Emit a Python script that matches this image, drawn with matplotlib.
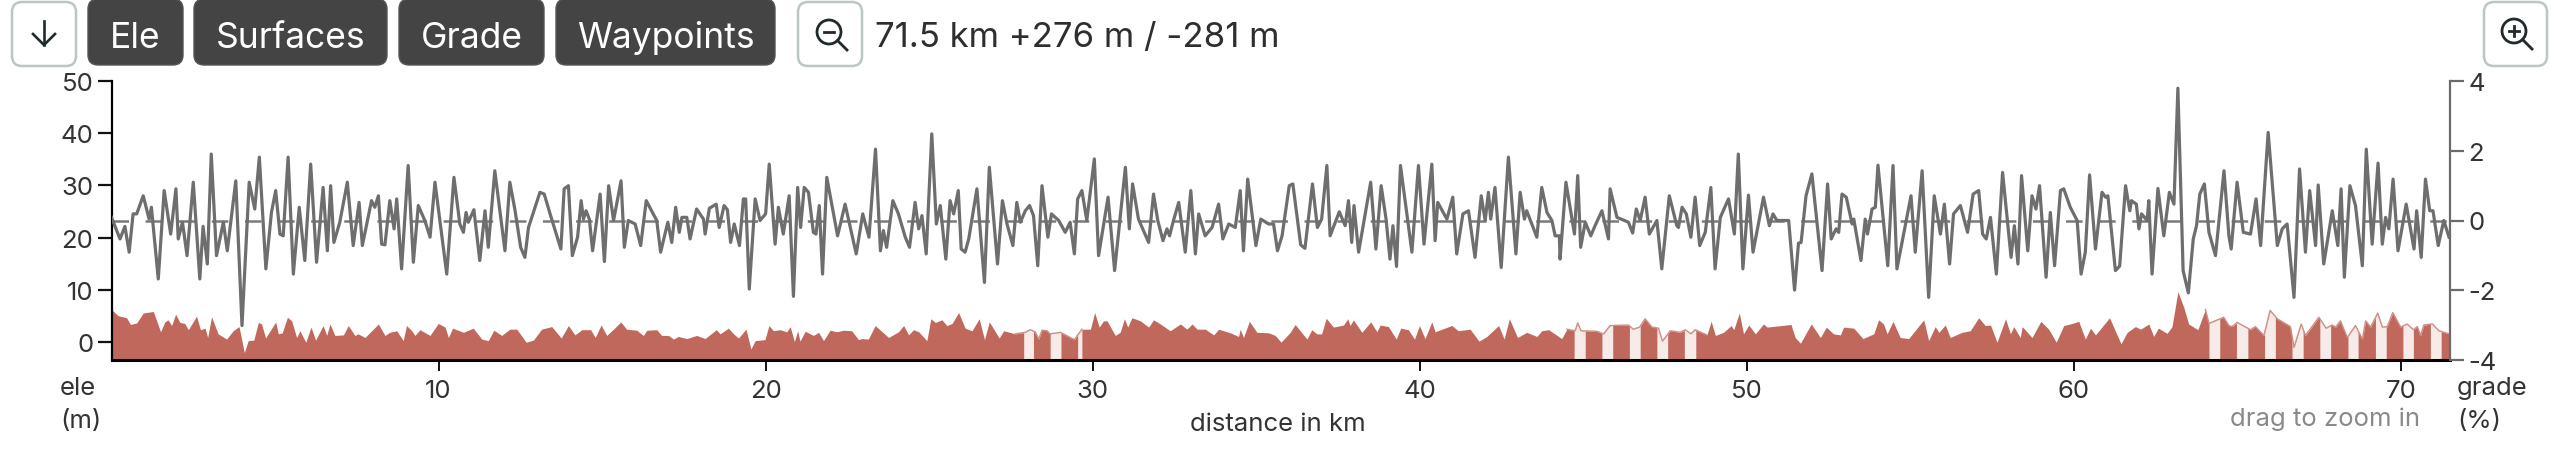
import numpy as np
import matplotlib
matplotlib.use("Agg")
import matplotlib.pyplot as plt
from matplotlib.patches import FancyBboxPatch, Circle

plt.rcParams['font.family'] = ['Inter', 'DejaVu Sans']
plt.rcParams['lines.scale_dashes'] = False

# ---------- data: (km, grade %) ----------
grade_part1 = [(0.0,0.09),(0.26,-0.53),(0.41,-0.17),(0.54,-0.91),(0.66,0.19),(0.77,0.19),(0.97,0.71),(1.15,0.04),(1.22,0.38),(1.43,-1.68),(1.61,0.86),(1.81,-0.39),(1.97,0.91),(2.04,-0.53),(2.17,-0.05),(2.31,-1.01),(2.50,1.10),(2.70,-1.68),(2.80,-0.17),(2.93,-1.25),(3.05,1.91),(3.21,-1.01),(3.42,-0.05),(3.54,-0.87),(3.80,1.14),(3.99,-3.02),(4.21,1.10),(4.38,0.33),(4.52,1.82),(4.72,-1.39),(4.89,0.23),(5.02,0.86),(5.15,-0.39),(5.25,-0.44),(5.40,1.82),(5.56,-1.54),(5.74,0.38),(5.91,-1.15),(6.09,1.62),(6.27,-1.20),(6.47,0.95),(6.60,-0.87),(6.70,1.00),(6.80,-0.63),(6.98,-0.05),(7.21,1.10),(7.39,-0.72),(7.57,0.52),(7.67,-0.72),(7.95,0.57),(8.05,0.38),(8.16,0.71),(8.26,-0.68),(8.36,-0.70),(8.51,0.57),(8.64,-0.24),(8.72,0.62),(8.87,-1.39),(9.07,1.58),(9.23,-1.20),(9.38,0.43),(9.58,0.0),(9.74,-0.48),(9.89,1.10),(10.25,-1.54),(10.47,1.24),(10.65,-0.10),(10.76,-0.34),(10.84,0.23),(10.91,-0.05),(11.08,0.31),(11.26,-1.15),(11.42,0.28),(11.52,-0.77),(11.72,1.43),(12.03,-0.87),(12.18,1.10)]
grade_part2 = [(12.34,0.28),(12.51,-0.77),(12.64,-1.06),(12.75,-0.20),(12.95,0.38),(13.10,0.81),(13.23,0.76),(13.41,0.19),(13.74,-0.82),(13.84,0.91),(13.97,1.00),(14.09,-1.01),(14.25,-0.48),(14.36,0.57),(14.43,0.04),(14.51,0.28),(14.61,0.04),(14.71,-0.87),(14.94,0.76),(15.07,-1.18),(15.20,1.00),(15.35,0.0),(15.58,1.14),(15.68,-0.77),(15.80,0.0),(16.01,-0.10),(16.18,-0.72),(16.35,0.57),(16.67,0.0),(16.79,-0.91),(17.01,-0.05),(17.13,-0.63),(17.25,0.38),(17.36,-0.34),(17.44,0.09),(17.59,0.09),(17.69,-0.53),(17.89,0.33),(18.10,0.04),(18.15,-0.39),(18.28,0.35),(18.49,0.47),(18.58,-0.20),(18.73,0.43),(18.83,0.31),(18.93,-0.63),(19.04,-0.10),(19.20,-0.72),(19.32,0.62),(19.39,0.62),(19.50,-1.97),(19.68,0.62),(19.83,0.0),(20.00,0.19),(20.11,1.62),(20.29,-0.68),(20.39,0.38),(20.54,-0.39),(20.72,0.71),(20.85,-2.18),(20.98,0.95),(21.07,-0.20),(21.18,0.95),(21.31,0.81),(21.46,-0.34),(21.54,-0.39),(21.64,0.43),(21.74,-1.54),(21.87,1.24),(22.20,-0.44),(22.43,0.47),(22.77,-0.96),(22.97,0.19),(23.16,-0.48),(23.36,2.05),(23.51,-0.87),(23.60,-0.29),(23.70,-0.77),(23.89,0.57)]
grade_part3 = [(24.06,0.19),(24.27,-0.48),(24.40,-0.77),(24.57,0.52),(24.68,-0.24),(24.78,0.14),(24.91,-0.96),(25.08,2.49),(25.22,-0.10),(25.34,0.43),(25.51,-1.11),(25.64,0.57),(25.75,0.19),(25.89,0.86),(25.98,-0.82),(26.10,-0.91),(26.21,-0.53),(26.46,0.91),(26.69,-1.78),(26.84,1.53),(27.09,-1.25),(27.24,0.57),(27.38,-0.10),(27.56,-0.72),(27.68,0.52),(27.79,-0.05),(27.94,0.28),(28.07,0.43),(28.19,0.14),(28.32,-1.30),(28.45,1.00),(28.63,-0.48),(28.74,0.19),(28.96,0.0),(29.16,-0.34),(29.31,-0.05),(29.44,-0.96),(29.54,0.62),(29.67,0.86),(29.82,0.0),(30.05,1.77),(30.18,-1.01),(30.47,0.67),(30.67,-1.44),(31.0,1.53),(31.12,-0.24),(31.22,1.05),(31.40,0.04),(31.71,-0.63),(31.86,0.76),(31.99,0.0),(32.15,-0.58),(32.27,-0.24),(32.35,-0.44),(32.47,0.0),(32.63,0.52),(32.83,-0.91),(33.0,0.86),(33.14,-0.96),(33.24,0.19),(33.44,-0.44),(33.65,-0.20),(33.85,0.47),(33.98,-0.53),(34.16,-0.10),(34.36,-0.20),(34.51,0.86),(34.61,-0.87),(34.74,1.19),(34.99,-0.72),(35.14,0.04),(35.38,-0.10),(35.53,-0.10),(35.65,-0.87),(35.79,-0.44),(36.01,1.00)]
grade_part4 = [(36.12,1.05),(36.36,-0.70),(36.49,-0.80),(36.72,1.05),(36.87,-0.20),(37.0,0.04),(37.16,1.58),(37.26,-0.44),(37.54,0.25),(37.72,-0.15),(37.82,0.57),(37.92,-0.63),(37.99,0.43),(38.13,-0.91),(38.50,1.10),(38.66,-0.82),(38.82,1.00),(38.97,0.04),(39.09,-1.11),(39.18,-0.15),(39.29,-1.32),(39.41,1.58),(39.76,-0.91),(39.96,1.58),(40.13,-0.68),(40.37,1.62),(40.47,-0.58),(40.55,0.52),(40.83,0.04),(41.01,0.67),(41.13,-0.96),(41.32,0.19),(41.49,0.28),(41.69,-1.06),(41.88,0.71),(42.0,0.0),(42.10,0.81),(42.17,0.04),(42.30,0.95),(42.49,-1.35),(42.71,1.82),(42.94,-0.96),(43.07,0.81),(43.20,0.04),(43.27,0.28),(43.58,-0.48),(43.73,0.95),(43.89,0.23),(44.04,0.0),(44.14,-0.44),(44.27,-0.44),(44.29,-1.11),(44.47,1.10),(44.73,-0.39),(44.83,1.29),(44.92,-0.77),(45.06,-0.05),(45.23,-0.44),(45.36,-0.15),(45.57,0.28),(45.77,-0.53),(45.82,0.91),(46.03,0.09),(46.38,-0.05),(46.51,-0.36),(46.62,0.33),(46.74,0.0),(46.89,0.67),(47.02,-0.39),(47.25,0.0),(47.40,-1.39),(47.63,0.71),(47.86,-0.15)]
grade_part5 = [(47.91,-0.20),(48.02,0.38),(48.15,0.19),(48.29,-0.48),(48.42,0.67),(48.56,-0.72),(48.73,-0.34),(48.90,0.95),(49.03,-1.39),(49.19,0.09),(49.44,0.62),(49.62,-0.39),(49.74,1.91),(49.88,-1.39),(50.05,0.73),(50.19,-0.91),(50.51,0.67),(50.69,-0.15),(50.80,0.19),(50.92,0.0),(51.28,0.0),(51.46,-2.0),(51.58,-0.65),(51.66,-0.63),(51.81,0.71),(51.99,1.34),(52.30,-1.44),(52.47,1.05),(52.58,-0.53),(52.73,-0.24),(52.81,-0.34),(52.91,0.76),(53.04,0.67),(53.22,-0.10),(53.27,0.04),(53.49,-1.15),(53.62,0.04),(53.69,-0.39),(53.83,0.33),(53.93,0.38),(54.01,1.59),(54.31,-1.30),(54.47,1.58),(54.59,-1.39),(55.02,0.71),(55.15,-0.91),(55.36,1.43),(55.56,-2.21),(55.73,0.71),(55.92,-0.39),(56.04,0.47),(56.20,-1.25),(56.32,0.19),(56.53,0.43),(56.75,-0.34),(56.92,0.76),(57.09,0.86),(57.21,-0.39),(57.32,-0.53),(57.45,0.09),(57.63,-1.54),(57.82,1.38),(58.08,-1.06),(58.18,-0.15),(58.29,-1.25),(58.40,1.29),(58.59,-0.87),(58.72,0.71),(58.84,0.33),(58.95,1.0),(59.15,-1.63),(59.28,0.23),(59.41,-1.30),(59.59,0.86),(59.69,0.91),(59.89,0.38)]
grade_part6 = [(60.10,0.0),(60.22,-1.54),(60.35,-0.91),(60.48,1.31),(60.66,-0.82),(60.86,0.81),(60.97,0.67),(61.04,0.71),(61.27,-1.44),(61.40,-1.31),(61.58,1.0),(61.71,0.28),(61.76,0.57),(61.91,0.47),(61.99,-0.24),(62.07,0.19),(62.24,0.0),(62.29,0.57),(62.39,-1.54),(62.57,0.92),(62.75,-0.44),(62.92,0.81),(63.06,0.47),(63.18,3.80),(63.34,-1.44),(63.50,-2.08),(63.65,-0.53),(63.75,-0.15),(63.85,0.76),(63.99,1.05),(64.13,-0.34),(64.33,-1.01),(64.59,1.43),(64.74,-0.44),(64.81,-0.82),(64.99,1.10),(65.18,-0.34),(65.40,-0.39),(65.57,0.62),(65.71,-0.72),(65.94,2.53),(66.22,-0.72),(66.37,-0.24),(66.52,-0.10),(66.73,-2.21),(66.90,1.48),(67.08,-0.91),(67.21,0.86),(67.39,-0.72),(67.47,1.02),(67.64,-1.25),(67.90,0.28),(68.07,-0.72),(68.17,0.91),(68.27,-1.63),(68.44,1.0),(68.61,0.43),(68.82,-1.30),(68.94,2.05),(69.12,-0.68),(69.30,1.65),(69.43,-0.68),(69.53,0.09),(69.63,-0.24),(69.76,1.19),(69.91,-0.87),(70.16,0.47),(70.40,-0.82),(70.48,0.28),(70.62,-1.06),(70.75,1.19),(70.88,0.28),(70.98,0.28),(71.14,-0.72),(71.31,0.0),(71.47,-0.48)]

# ---------- data: (km, elevation m) ----------
ele_part1 = [(0.0,6.2),(0.2,5.0),(0.46,4.6),(0.58,3.3),(0.77,3.6),(0.97,5.5),(1.28,5.8),(1.5,1.9),(1.63,3.8),(1.73,4.2),(1.84,3.1),(1.96,5.3),(2.09,3.7),(2.24,3.5),(2.35,2.3),(2.6,4.9),(2.72,2.3),(2.86,2.6),(2.94,0.8),(3.06,4.8),(3.26,1.5),(3.52,0.5),(3.72,2.1),(3.9,2.9),(4.06,-2.1),(4.18,0.2),(4.35,0.3),(4.49,3.7),(4.59,3.4),(4.71,0.7),(5.02,3.8),(5.1,1.5),(5.22,1.7),(5.38,4.7),(5.51,4.0),(5.66,0.8),(5.76,2.1),(5.94,-0.1),(6.1,2.8),(6.24,0.3),(6.47,3.1),(6.58,1.2),(6.68,3.4),(6.83,1.2),(7.09,1.3),(7.24,3.1),(7.44,1.2),(7.54,1.5),(7.75,0.8),(8.16,3.4),(8.36,1.2),(8.51,1.8),(8.72,2.1),(8.92,0.2),(9.02,3.1),(9.18,2.1),(9.28,1.2),(9.43,2.3),(9.74,1.2),(9.99,3.5),(10.2,2.8),(10.3,0.8),(10.43,2.6),(10.76,1.8),(11.06,2.6),(11.32,0.5),(11.52,0.2),(11.69,2.2),(11.93,1.2),(12.18,2.4)]
ele_part2 = [(12.39,2.4),(12.68,-0.1),(12.9,0.3),(13.15,2.4),(13.46,2.9),(13.75,0.7),(13.97,3.1),(14.17,1.3),(14.38,2.3),(14.65,2.3),(14.79,0.8),(14.97,3.2),(15.14,1.2),(15.35,2.4),(15.57,3.8),(15.75,2.4),(16.06,2.2),(16.26,1.2),(16.37,2.2),(16.67,2.3),(16.82,1.2),(17.03,1.2),(17.18,0.5),(17.33,1.0),(17.59,0.6),(17.89,1.2),(18.15,0.6),(18.49,2.3),(18.61,1.5),(18.86,2.6),(19.02,1.5),(19.17,0.7),(19.4,2.4),(19.55,-1.4),(19.68,0.2),(19.98,0.4),(20.1,3.1),(20.24,2.1),(20.44,2.3),(20.65,1.9),(20.75,2.9),(20.88,0.0),(20.98,2.1),(21.05,0.1),(21.21,2.0),(21.46,1.2),(21.62,1.8),(21.77,0.2),(21.97,2.2),(22.18,1.9),(22.38,2.2),(22.63,2.1),(22.84,0.4),(22.94,0.6),(23.14,0.5),(23.35,3.1),(23.76,0.8),(24.06,1.9)]
ele_part3 = [(24.22,3.1),(24.37,1.3),(24.52,2.3),(24.68,1.9),(24.93,0.2),(25.05,4.4),(25.19,3.7),(25.39,4.2),(25.54,3.1),(25.7,3.5),(25.9,5.6),(26.1,2.6),(26.31,2.1),(26.53,4.4),(26.69,0.4),(26.84,3.8),(27.14,0.7),(27.28,2.1),(27.63,1.5),(27.94,1.8),(28.09,2.3),(28.24,1.9),(28.35,0.5),(28.45,2.2),(28.6,2.1),(28.7,1.5),(29.01,1.8),(29.44,0.4),(29.67,2.4),(29.93,2.4),(30.06,5.6),(30.2,2.8),(30.33,4.0),(30.44,4.0),(30.69,1.2),(30.84,1.8),(30.97,4.4),(31.07,2.8),(31.2,4.6),(31.46,4.0),(31.71,2.8),(31.86,4.2),(32.07,3.4),(32.37,2.1),(32.68,3.4),(32.88,2.4),(33.04,3.4),(33.19,2.4),(33.44,2.4),(33.7,1.3),(33.85,2.4),(34.21,1.7),(34.46,1.0),(34.51,2.4),(34.61,0.8),(34.79,3.9),(35.02,1.8),(35.38,1.7),(35.58,1.2),(35.76,-0.1),(36.04,1.8)]
ele_part4 = [(36.19,3.3),(36.55,0.5),(36.7,2.3),(36.85,1.5),(37.0,1.5),(37.14,4.5),(37.36,2.8),(37.67,3.2),(37.8,4.4),(37.87,3.1),(37.97,4.2),(38.23,1.8),(38.5,3.8),(38.69,1.9),(38.79,3.2),(39.04,2.9),(39.28,0.5),(39.42,2.6),(39.65,2.3),(39.84,0.5),(39.99,3.1),(40.16,0.6),(40.37,3.8),(40.47,1.9),(40.98,3.1),(41.18,2.1),(41.54,2.4),(41.81,0.1),(42.05,1.0),(42.41,3.1),(42.58,0.5),(42.74,4.4),(42.99,0.8),(43.27,1.8),(43.58,1.0),(43.73,2.1),(43.94,2.3),(44.34,0.6),(44.5,2.4),(44.75,2.1),(44.83,3.6),(44.93,2.1),(45.41,2.0),(45.62,1.5),(45.82,3.1),(46.38,3.2),(46.53,2.4),(46.72,2.8),(46.89,4.4),(47.1,2.8),(47.3,2.6),(47.42,0.1),(47.66,2.1),(47.96,1.8)]
ele_part5 = [(48.12,2.3),(48.29,1.5),(48.42,2.3),(48.78,1.3),(48.91,3.9),(49.04,1.2),(49.29,1.8),(49.52,3.1),(49.6,2.3),(49.77,5.5),(49.9,1.5),(50.06,3.2),(50.26,1.5),(50.51,3.4),(50.62,2.8),(51.35,3.3),(51.48,0.8),(51.64,-0.3),(51.97,3.4),(52.25,0.8),(52.43,2.8),(52.65,1.5),(52.86,1.3),(52.96,2.8),(53.27,2.6),(53.55,0.6),(53.88,1.5),(54.03,4.2),(54.18,3.4),(54.29,1.5),(54.47,3.9),(54.69,0.8),(54.95,0.6),(55.41,4.2),(55.56,0.2),(55.76,2.9),(55.87,1.8),(56.07,3.2),(56.22,0.8),(56.58,1.8),(56.83,2.1),(57.09,4.6),(57.29,3.1),(57.45,3.2),(57.65,-0.1),(57.91,4.4),(58.06,1.5),(58.16,2.9),(58.36,0.8),(58.42,2.9),(58.72,0.8),(58.99,3.9),(59.23,2.4),(59.46,-0.1),(59.69,3.1),(59.89,3.4)]
ele_part6 = [(60.15,3.9),(60.35,0.5),(60.51,2.6),(60.66,1.3),(61.09,4.6),(61.44,-0.4),(61.63,1.8),(61.88,2.9),(62.04,2.4),(62.29,3.4),(62.44,1.0),(62.58,2.6),(62.85,1.6),(63.0,2.9),(63.18,9.6),(63.36,6.6),(63.51,3.4),(63.79,2.3),(64.02,6.2),(64.13,3.5),(64.58,4.7),(64.74,3.1),(64.84,2.9),(64.99,3.7),(65.4,2.3),(65.55,2.9),(65.81,1.2),(66.0,6.0),(66.22,4.4),(66.62,2.9),(66.73,-1.1),(66.95,3.4),(67.08,1.2),(67.49,4.7),(67.71,2.6),(67.9,3.2),(68.0,2.8),(68.15,4.0),(68.36,0.8),(68.61,3.1),(68.82,0.5),(68.92,4.0),(69.07,2.8),(69.29,5.5),(69.43,2.8),(69.58,2.9),(69.75,5.6),(69.99,2.8),(70.19,3.4),(70.38,2.3),(70.5,2.9),(70.6,1.2),(70.7,3.2),(70.96,3.4),(71.16,2.1),(71.47,1.5)]

# surface sections (km) drawn with a striped fill
surface_spans = [(27.6, 29.7), (44.45, 48.9), (63.82, 71.5)]
stripe_start = [27.89, 28.70, 29.54, 44.72, 45.57, 46.41, 47.25, 48.09, 64.13, 64.97, 65.83, 66.67, 67.52, 68.38, 69.22, 70.06, 70.90]
stripe_end   = [28.19, 29.03, 29.67, 45.06, 45.90, 46.74, 47.58, 48.44, 64.46, 65.32, 66.16, 67.01, 67.85, 68.69, 69.55, 70.38, 71.23]

km_ticks = [10, 20, 30, 40, 50, 60, 70]
ele_ticks = [0, 10, 20, 30, 40, 50]
grade_ticks = [-4, -2, 0, 2, 4]
buttons = ["Ele", "Surfaces", "Grade", "Waypoints"]
summary = "71.5 km +276 m / -281 m"

grade_xy = np.array(grade_part1 + grade_part2 + grade_part3 + grade_part4 + grade_part5 + grade_part6)
ele_xy = np.array(ele_part1 + ele_part2 + ele_part3 + ele_part4 + ele_part5 + ele_part6)

W, H = 2560, 456
fig = plt.figure(figsize=(W / 100, H / 100), dpi=100)

L, R, T, B = 111.5, 2450.0, 82.3, 360.7
ax = fig.add_axes([L / W, 1 - B / H, (R - L) / W, (B - T) / H])
ax.set_xlim(0, 71.5)
ele_bottom = -3.46
ax.set_ylim(ele_bottom, 50)
FILL = '#c0685c'
ax.fill_between(ele_xy[:, 0], ele_xy[:, 1], ele_bottom, color=FILL, lw=0, zorder=1)
for a, b in zip(stripe_start, stripe_end):
    xs = np.linspace(a, b, 25)
    ax.fill_between(xs, np.interp(xs, ele_xy[:, 0], ele_xy[:, 1]), ele_bottom,
                    color='#f7ebe9', lw=0, zorder=2)
for a, b in surface_spans:
    m = (ele_xy[:, 0] >= a) & (ele_xy[:, 0] <= b)
    ax.plot(ele_xy[m, 0], ele_xy[m, 1], color='#cf8f87', lw=1.0, zorder=3)

ax.spines['top'].set_visible(False)
ax.spines['right'].set_visible(False)
ax.spines['left'].set_linewidth(1.6)
ax.spines['bottom'].set_linewidth(2.2)
ax.set_xticks(km_ticks)
ax.set_yticks(ele_ticks)
ax.tick_params(axis='x', length=8, width=1.4, labelsize=18.5, pad=6, colors='#333333', color='#111111')
ax.tick_params(axis='y', length=10, width=1.6, labelsize=18.5, pad=3, colors='#333333', color='#111111')

ax2 = ax.twinx()
ax2.set_ylim(-4, 4)
ax2.set_yticks(grade_ticks)
ax2.set_yticklabels([str(t) for t in grade_ticks])
for s in ['top', 'left', 'bottom']:
    ax2.spines[s].set_visible(False)
ax2.spines['right'].set_linewidth(1.6)
ax2.spines['right'].set_color('#6b6b6b')
ax2.tick_params(axis='y', length=10, width=1.6, labelsize=18.5, pad=3, colors='#333333', color='#6b6b6b')
ax2.axhline(0, color='#7a7a7a', lw=1.8, linestyle=(0, (11.92, 11.92)), dash_capstyle='butt', zorder=2)
ax2.plot(grade_xy[:, 0], grade_xy[:, 1], color='#6e6e6e', lw=2.3, solid_joinstyle='round', zorder=3)

# ---------- page furniture in pixel coordinates ----------
ui = fig.add_axes([0, 0, 1, 1], zorder=5)
ui.set_xlim(0, W)
ui.set_ylim(H, 0)
ui.axis('off')
ui.patch.set_alpha(0)

def box(x0, x1, y0, y1, fc, ec, lw):
    ui.add_patch(FancyBboxPatch((x0 + 9, y0 + 9), x1 - x0 - 18, y1 - y0 - 18,
                                boxstyle='round,pad=9,rounding_size=10',
                                fc=fc, ec=ec, lw=lw))

button_edges = [(88, 183), (194, 387), (399, 544), (556, 775)]
for name, (x0, x1) in zip(buttons, button_edges):
    box(x0, x1, 0, 66, '#444444', '#555555', 1)
    ui.text((x0 + x1) / 2, 38, name, color='white', fontsize=25.5, ha='center', va='center')

for x0, x1 in [(12, 76), (798, 862), (2484, 2547)]:
    box(x0, x1, 3, 67, 'white', '#bcc6c6', 1.8)

ink = '#1f2a2a'
ui.plot([44, 44], [22, 46], color=ink, lw=1.9)
ui.plot([33, 44, 55], [35, 46, 35], color=ink, lw=1.9)
for cx, cy, plus in [(829, 33, False), (2514, 32, True)]:
    ui.add_patch(Circle((cx, cy), 12, fc='none', ec=ink, lw=2.0))
    ui.plot([cx + 8.5, cx + 18], [cy + 8.5, cy + 18], color=ink, lw=2.0)
    ui.plot([cx - 5, cx + 5], [cy, cy], color=ink, lw=2.0)
    if plus:
        ui.plot([cx, cx], [cy - 5, cy + 5], color=ink, lw=2.0)

ui.text(875, 38, summary, color='#2e2e2e', fontsize=25, ha='left', va='center')
txt = dict(color='#333333', fontsize=18.5, va='center')
ui.text(60, 389, 'ele', ha='left', **txt)
ui.text(60, 422, '(m)', ha='left', **txt)
ui.text(2457, 389, 'grade', ha='left', **txt)
ui.text(2457, 422, '(%)', ha='left', **txt)
ui.text(1278, 425, 'distance in km', ha='center', **txt)
ui.text(2420, 419, 'drag to zoom in', ha='right', color='#8a8a8a', fontsize=18.5, va='center')

fig.savefig('out.png', dpi=100)
